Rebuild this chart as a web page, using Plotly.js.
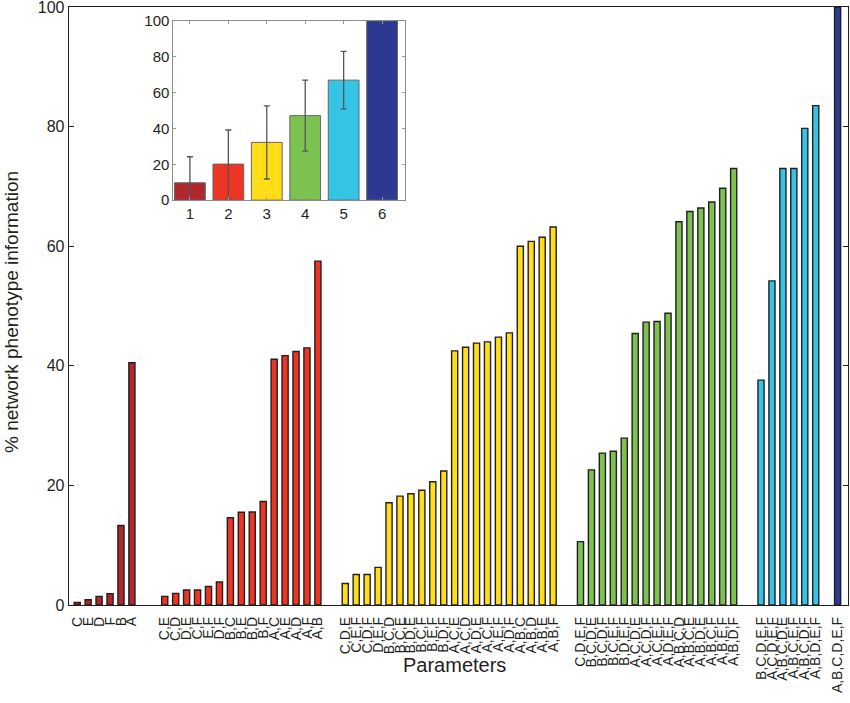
<!DOCTYPE html>
<html>
<head>
<meta charset="utf-8">
<script src="https://cdn.plot.ly/plotly-3.0.1.min.js"></script>
<style>html,body{margin:0;padding:0;background:#fff;}#chart{width:850px;height:703px;}</style>
</head>
<body>
<div id="chart"></div>
<script>
// ---- data ----
var labels1 = ["C","E","D","F","B","A"];
var values1 = [0.43, 0.89, 1.44, 1.89, 13.3, 40.5];

var labels2 = ["C,E","C,D","D,E","C,F","E,F","D,F","B,C","B,E","B,D","B,F","A,C","A,E","A,D","A,F","A,B"];
var values2 = [1.44, 1.94, 2.5, 2.5, 3.1, 3.85, 14.6, 15.5, 15.55, 17.3, 41.1, 41.7, 42.4, 43.0, 57.5];

var labels3 = ["C,D,E","C,E,F","C,D,F","D,E,F","B,C,D","B,C,E","B,D,E","B,C,F","B,E,F","B,D,F",
               "A,C,E","A,C,D","A,D,E","A,C,F","A,E,F","A,D,F","A,B,C","A,B,D","A,B,E","A,B,F"];
var values3 = [3.6, 5.1, 5.1, 6.3, 17.1, 18.2, 18.6, 19.2, 20.6, 22.4, 42.5, 43.1, 43.8, 44.0, 44.8, 45.5, 60.0, 60.8, 61.5, 63.2];

var labels4 = ["C,D,E,F","B,C,D,E","B,C,D,F","B,C,E,F","B,D,E,F","A,C,D,E","A,C,D,F","A,C,E,F","A,D,E,F",
               "A,B,C,D","A,B,C,E","A,B,D,E","A,B,C,F","A,B,E,F","A,B,D,F"];
var values4 = [10.6, 22.6, 25.4, 25.7, 27.9, 45.4, 47.3, 47.4, 48.8, 64.1, 65.8, 66.4, 67.4, 69.7, 73.0];

var labels5 = ["B,C,D,E,F","A,C,D,E,F","A,B,C,D,E","A,B,C,E,F","A,B,C,D,F","A,B,D,E,F"];
var values5 = [37.6, 54.2, 73.0, 73.0, 79.7, 83.5];

var labels6 = ["A,B,C,D,E,F"];
var values6 = [100];

var insetCats = ["1","2","3","4","5","6"];
var insetMeans = [9.7, 20.1, 32.2, 47.1, 66.9, 100];
var insetErrs = [14.5, 19.0, 20.4, 19.8, 16.0, 0];

// ---- styling / layout ----
var colors = ["#B0282E","#EE3524","#FFDE17","#7CC250","#33C4E6","#2B3990"];
var groups = [[labels1,values1],[labels2,values2],[labels3,values3],[labels4,values4],[labels5,values5],[labels6,values6]];
var gapsBefore = [0, 3, 2.5, 2.5, 2.5, 2];   // distance (in bar slots) from last bar of previous group
var startPos = 1.25;
var ink = "#231F20";
var font = "Liberation Sans, Arial, Helvetica, sans-serif";

var traces = [];
var allPos = [], allLab = [];
var pos = null;
groups.forEach(function(g, gi){
  var xs = [];
  g[0].forEach(function(lab, i){
    if (pos === null) pos = startPos;
    else if (i === 0) pos += gapsBefore[gi];
    else pos += 1;
    xs.push(pos);
    allPos.push(pos); allLab.push(lab);
  });
  traces.push({
    type: "bar", x: xs, y: g[1], width: 0.56,
    marker: {color: colors[gi], line: {color: ink, width: 1.4}},
    hoverinfo: "x+y", text: g[0], textposition: "none",
    xaxis: "x", yaxis: "y"
  });
});

traces.push({
  type: "bar", x: [1,2,3,4,5,6], y: insetMeans, width: 0.8,
  marker: {color: colors, line: {color: "#666666", width: 1}},
  error_y: {type: "data", array: insetErrs, visible: true, color: "#555555", thickness: 1.3, width: 3},
  xaxis: "x3", yaxis: "y3"
});

var xRange = [0.5, 71.7];

var layout = {
  width: 850, height: 703,
  margin: {l: 69, r: 2, t: 7, b: 98},
  paper_bgcolor: "#ffffff", plot_bgcolor: "#ffffff",
  showlegend: false,
  font: {family: font, color: ink},
  xaxis: {
    range: xRange, tickmode: "array", tickvals: allPos, ticktext: allLab,
    tickangle: -90, ticks: "", showline: true, linecolor: ink, linewidth: 1.3, mirror: true,
    ticklabelstandoff: 5,
    showgrid: false, zeroline: false, tickfont: {size: 14, color: ink, family: font}
  },
  xaxis2: {
    overlaying: "x", anchor: "y", range: xRange, tickmode: "linear", tick0: 0, dtick: 10,
    ticks: "inside", ticklen: 5, tickcolor: ink, tickwidth: 1, showticklabels: false,
    mirror: "ticks", showline: false, showgrid: false, zeroline: false
  },
  yaxis: {
    range: [0, 100], tickmode: "linear", tick0: 0, dtick: 20,
    ticks: "inside", ticklen: 5, tickcolor: ink, showline: true, linecolor: ink, linewidth: 1.3,
    mirror: "ticks", showgrid: false, zeroline: false, ticklabeloverflow: "allow",
    tickfont: {size: 16, color: ink, family: font}
  },
  xaxis3: {
    domain: [0.134, 0.431], anchor: "y3", range: [0.57, 6.59],
    tickmode: "array", tickvals: [1,2,3,4,5,6], ticktext: insetCats,
    ticks: "inside", ticklen: 3, tickcolor: "#9a9a9a", showline: true, linecolor: "#8c8c8c", linewidth: 1,
    mirror: "ticks", showgrid: false, zeroline: false, tickfont: {size: 15, color: ink, family: font}
  },
  yaxis3: {
    domain: [0.677, 0.977], anchor: "x3", range: [0, 100], tickmode: "linear", tick0: 0, dtick: 20,
    ticks: "inside", ticklen: 3, tickcolor: "#9a9a9a", showline: true, linecolor: "#8c8c8c", linewidth: 1,
    mirror: "ticks", showgrid: false, zeroline: false, tickfont: {size: 15, color: ink, family: font}
  },
  annotations: [
    {text: "Parameters", xref: "paper", yref: "paper", x: 0.4955, y: -0.1, xanchor: "center", yanchor: "middle",
     showarrow: false, font: {size: 20, color: ink, family: font}},
    {text: "% network phenotype information", xref: "paper", yref: "paper", x: -0.0732, y: 0.49,
     xanchor: "center", yanchor: "middle", textangle: -90, showarrow: false,
     font: {size: 19, color: ink, family: font}}
  ]
};

Plotly.newPlot("chart", traces, layout, {displayModeBar: false, staticPlot: true});
</script>
</body>
</html>
